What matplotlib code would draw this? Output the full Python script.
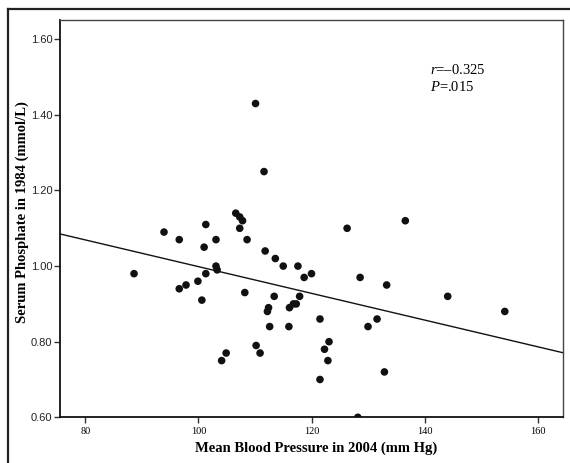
import numpy as np
import matplotlib
matplotlib.use("Agg")
import matplotlib.pyplot as plt
from matplotlib.lines import Line2D

plt.rcParams["mathtext.fontset"] = "custom"
plt.rcParams["mathtext.it"] = "Liberation Serif:italic"
plt.rcParams["mathtext.rm"] = "Liberation Serif"

# Mean blood pressure 2004 (mm Hg)
bp = [88.6, 93.9, 96.6, 96.6, 97.8, 99.9, 100.6, 101.0, 101.3, 101.3,
      103.1, 103.1, 103.3, 104.1, 104.9, 106.6, 107.3, 107.8, 107.3, 108.2,
      108.6, 110.1, 110.2, 110.9, 111.6, 111.8, 112.2, 112.4, 112.6, 113.4,
      113.6, 115.0, 116.0, 116.1, 116.8, 117.3, 117.6, 117.9, 118.7, 120.0,
      121.5, 121.5, 122.3, 122.9, 123.1, 126.3, 128.2, 128.6, 130.0, 131.6,
      132.9, 133.3, 136.6, 144.1, 154.2]
# Serum phosphate 1984 (mmol/L)
phos = [0.98, 1.09, 1.07, 0.94, 0.95, 0.96, 0.91, 1.05, 1.11, 0.98,
        1.07, 1.00, 0.99, 0.75, 0.77, 1.14, 1.13, 1.12, 1.10, 0.93,
        1.07, 1.43, 0.79, 0.77, 1.25, 1.04, 0.88, 0.89, 0.84, 0.92,
        1.02, 1.00, 0.84, 0.89, 0.90, 0.90, 1.00, 0.92, 0.97, 0.98,
        0.86, 0.70, 0.78, 0.75, 0.80, 1.10, 0.60, 0.97, 0.84, 0.86,
        0.72, 0.95, 1.12, 0.92, 0.88]

xticks = [80, 100, 120, 140, 160]
yticks = [0.60, 0.80, 1.00, 1.20, 1.40, 1.60]

fig = plt.figure(figsize=(5.7, 4.63), dpi=100)
ax = fig.add_axes([60/570, 1-417.3/463, (563-60)/570, (417.3-20)/463])

x = np.array(bp); y = np.array(phos)
ax.scatter(x, y, s=30, color="#111111", edgecolors="none", zorder=3, clip_on=True)

xlim = (75.5, 164.5)
slope, intercept = np.polyfit(x, y, 1)
xs = np.array(xlim)
ax.plot(xs, intercept + slope*xs, color="#111111", lw=1.0, zorder=2)

ax.set_xlim(*xlim)
ax.set_ylim(0.60, 1.651)
ax.set_xticks(xticks)
ax.set_xticklabels([str(t) for t in xticks], family="Liberation Serif", fontsize=7.5)
ax.set_yticks(yticks)
ax.set_yticklabels([f"{t:.2f}" for t in yticks], family="Liberation Sans", fontsize=8, color="#222222")
ax.tick_params(axis="both", direction="out", length=4, width=1, color="#333333")
ax.tick_params(axis="x", pad=3)
ax.tick_params(axis="y", pad=1.5)

for side in ["left", "bottom"]:
    ax.spines[side].set_linewidth(1.3)
    ax.spines[side].set_color("#111111")
for side in ["top", "right"]:
    ax.spines[side].set_linewidth(1.0)
    ax.spines[side].set_color("#444444")

ax.set_xlabel("Mean Blood Pressure in 2004 (mm Hg)", family="Liberation Serif",
              fontweight="bold", fontsize=10.5)
ax.set_ylabel("Serum Phosphate in 1984 (mmol/L)", family="Liberation Serif",
              fontweight="bold", fontsize=10.5)
ax.xaxis.set_label_coords((316-60)/503, (417.3-448)/397.3)
ax.xaxis.label.set_va("center")
ax.yaxis.set_label_coords((22-60)/503, (417.3-212.5)/397.3)
ax.yaxis.label.set_va("center")

ax.text(0.7356, 0.865, r"$r$" + "=\u20130.325", transform=ax.transAxes,
        family="Liberation Serif", fontsize=10.5, va="baseline")
ax.text(0.7356, 0.822, r"$P$" + "=.015", transform=ax.transAxes,
        family="Liberation Serif", fontsize=10.5, va="baseline")

# outer frame (left and top)
fig.add_artist(Line2D([8/570, 8/570], [0, 1-9/463], transform=fig.transFigure, color="#222222", lw=1.6))
fig.add_artist(Line2D([8/570, 1], [1-9/463, 1-9/463], transform=fig.transFigure, color="#222222", lw=1.6))

fig.savefig("out.png", dpi=100)
